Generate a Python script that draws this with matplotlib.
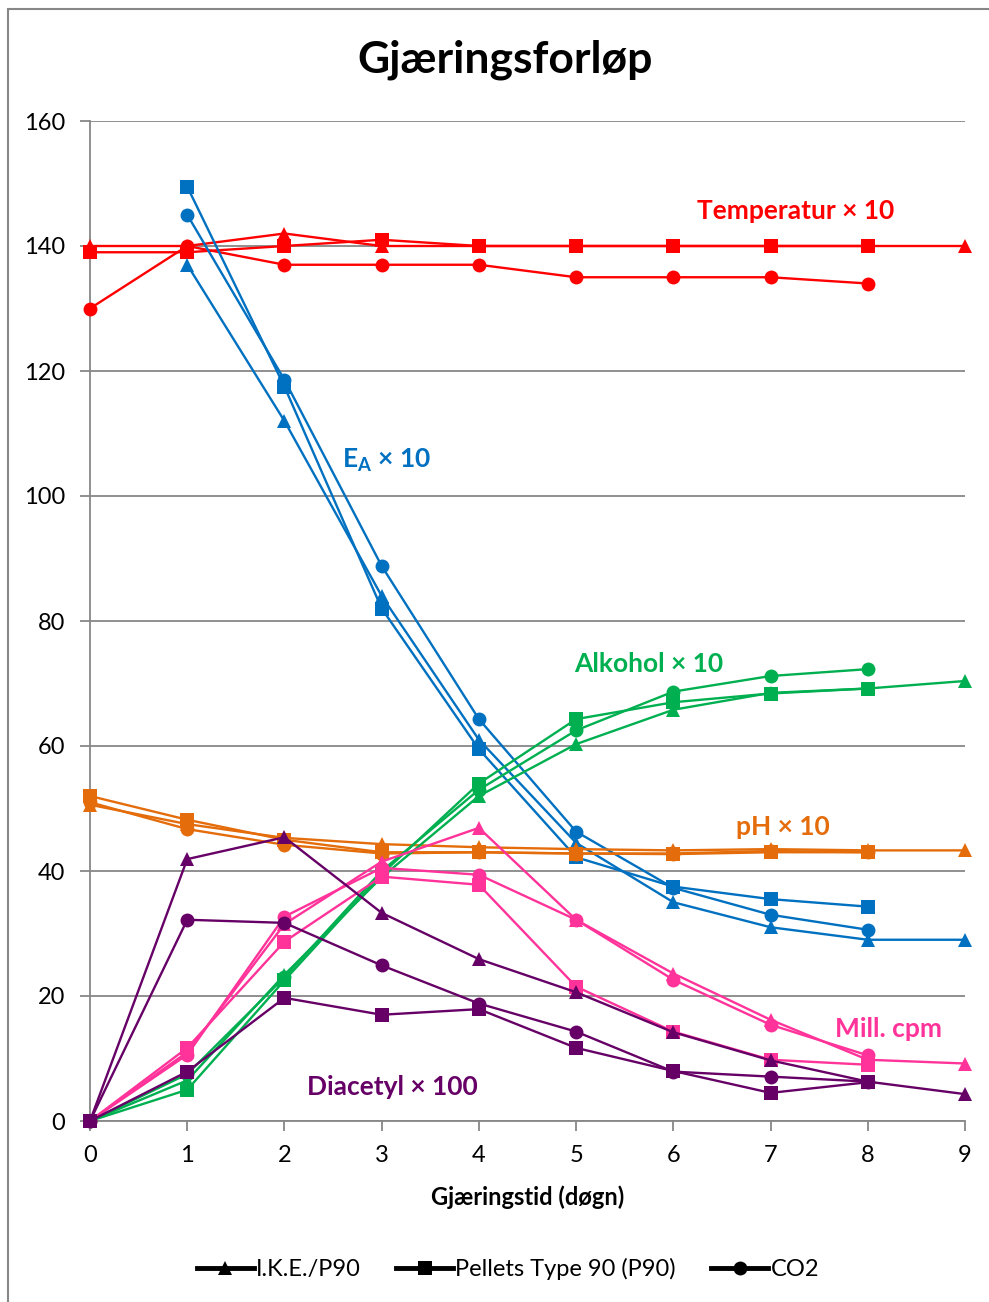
import matplotlib
matplotlib.use("Agg")
import matplotlib.pyplot as plt
from matplotlib.lines import Line2D
from matplotlib.patches import Rectangle

plt.rcParams['font.family'] = ['Lato', 'DejaVu Sans']
plt.rcParams['mathtext.fontset'] = 'custom'
plt.rcParams['mathtext.rm'] = 'Lato'
plt.rcParams['mathtext.bf'] = 'Lato:bold'

# Days of fermentation
days_9 = [0, 1, 2, 3, 4, 5, 6, 7, 8, 9]
days_8 = [0, 1, 2, 3, 4, 5, 6, 7, 8]
days_ea8 = [1, 2, 3, 4, 5, 6, 7, 8]
days_ea9 = [1, 2, 3, 4, 5, 6, 7, 8, 9]

# Temperature x 10
temp_ike = [140, 140, 142, 140, 140, 140, 140, 140, 140, 140]
temp_pel = [139, 139, 140, 141, 140, 140, 140, 140, 140]
temp_co2 = [130, 140, 137, 137, 137, 135, 135, 135, 134]

# Apparent extract x 10
ea_ike = [137, 112, 84, 61, 44.5, 35, 31, 29, 29]
ea_pel = [149.5, 117.5, 82, 59.5, 42.2, 37.5, 35.5, 34.3]
ea_co2 = [145, 118.6, 88.8, 64.3, 46.3, 37.3, 33, 30.6]

# pH x 10
ph_ike = [50.6, 47.5, 45.3, 44.3, 43.8, 43.5, 43.3, 43.5, 43.3, 43.3]
ph_pel = [52, 48.2, 45, 43, 43, 42.8, 42.7, 43, 43]
ph_co2 = [51, 46.7, 44.2, 42.8, 43, 42.8, 42.8, 43.2, 43]

# Alcohol x 10
alc_ike = [0, 6.5, 23.4, 39, 52, 60.3, 65.8, 68.5, 69.2, 70.4]
alc_pel = [0, 5, 22.5, 39.5, 54, 64.3, 67, 68.4, 69.2]
alc_co2 = [0, 7.5, 23, 40, 53, 62.5, 68.7, 71.2, 72.3]

# Million counts per minute
cpm_ike = [0, 11, 31.5, 41.5, 46.9, 32.2, 23.6, 16.2, 9.8, 9.2]
cpm_pel = [0, 11.7, 28.7, 39.1, 37.8, 21.5, 14.3, 9.8, 9]
cpm_co2 = [0, 10.6, 32.7, 40.5, 39.4, 32.2, 22.6, 15.4, 10.5]

# Diacetyl x 100
dia_ike = [0, 41.9, 45.4, 33.3, 25.9, 20.6, 14.2, 9.7, 6.3, 4.3]
dia_pel = [0, 7.9, 19.7, 17, 17.9, 11.7, 8, 4.5, 6.2]
dia_co2 = [0, 32.2, 31.7, 24.9, 18.8, 14.3, 7.9, 7.1, 6.3]

legend_labels = ['I.K.E./P90', 'Pellets Type 90 (P90)', 'CO2']
y_ticks = [0, 20, 40, 60, 80, 100, 120, 140, 160]

RED = '#FF0000'
BLUE = '#0070C0'
ORANGE = '#E46C0A'
GREEN = '#00B050'
PINK = '#FF3399'
PURPLE = '#660066'
GRID = '#878787'

W, H = 989, 1302
fig = plt.figure(figsize=(W / 100, H / 100), dpi=100)
ax = fig.add_axes([90 / W, 1 - 1121 / H, (965 - 90) / W, 1000 / H])

# outer chart frame
fig.patches.append(Rectangle((8 / W, -0.05), 1.2, 1 - 9 / H + 0.05,
                             transform=fig.transFigure, fill=False,
                             edgecolor=GRID, linewidth=1.5, zorder=0))

lw = 1.7
ms = 10

def series(x, y, color, marker, z):
    ax.plot(x, y, color=color, marker=marker, markersize=ms, linewidth=lw,
            markeredgewidth=0, zorder=z, clip_on=False)

groups = [
    (RED, (days_9, temp_ike), (days_8, temp_pel), (days_8, temp_co2)),
    (BLUE, (days_ea9, ea_ike), (days_ea8, ea_pel), (days_ea8, ea_co2)),
    (ORANGE, (days_9, ph_ike), (days_8, ph_pel), (days_8, ph_co2)),
    (GREEN, (days_9, alc_ike), (days_8, alc_pel), (days_8, alc_co2)),
    (PINK, (days_9, cpm_ike), (days_8, cpm_pel), (days_8, cpm_co2)),
    (PURPLE, (days_9, dia_ike), (days_8, dia_pel), (days_8, dia_co2)),
]
z = 3
for color, tri, sq, circ in groups:
    series(*tri, color, '^', z); z += 1
    series(*sq, color, 's', z); z += 1
    series(*circ, color, 'o', z); z += 1

ax.set_xlim(0, 9)
ax.set_ylim(0, 160)
ax.set_xticks(days_9)
ax.set_yticks(y_ticks)
ax.yaxis.grid(True, color=GRID, linewidth=1.3)
ax.set_axisbelow(True)
for s in ['top', 'right']:
    ax.spines[s].set_visible(False)
for s in ['left', 'bottom']:
    ax.spines[s].set_color(GRID)
    ax.spines[s].set_linewidth(1.3)
ax.tick_params(axis='both', color=GRID, length=7, width=1.3, labelsize=17,
               labelcolor='black', direction='out')
ax.tick_params(axis='y', pad=11)
ax.tick_params(axis='x', pad=10)

ax.set_xlabel('Gjæringstid (døgn)', fontsize=17, fontweight='bold', labelpad=14)
fig.text(505 / W, 1 - 60 / H, 'Gjæringsforløp', fontsize=32, fontweight='bold',
         ha='center', va='center')

lab = dict(fontsize=19, fontweight='bold', ha='center', va='center')
ax.text(7.26, 145.6, 'Temperatur × 10', color=RED, **lab)
ax.text(3.05, 105.8, r'E$_{\mathbf{A}}$ × 10', color=BLUE, **lab)
ax.text(5.75, 73.1, 'Alkohol × 10', color=GREEN, **lab)
ax.text(7.13, 47.0, 'pH × 10', color=ORANGE, **lab)
ax.text(8.21, 14.7, 'Mill. cpm', color=PINK, **lab)
ax.text(3.11, 5.4, 'Diacetyl × 100', color=PURPLE, **lab)

handles = [Line2D([], [], color='black', marker=m, markersize=ms, linewidth=3.5,
                  markeredgewidth=0) for m in ['^', 's', 'o']]
fig.legend(handles, legend_labels, loc='center', bbox_to_anchor=(508 / W, 1 - 1269 / H),
           ncol=3, frameon=False, fontsize=17, handlelength=2.4, handletextpad=0.1,
           columnspacing=1.5)

fig.savefig('out.png', dpi=100)
